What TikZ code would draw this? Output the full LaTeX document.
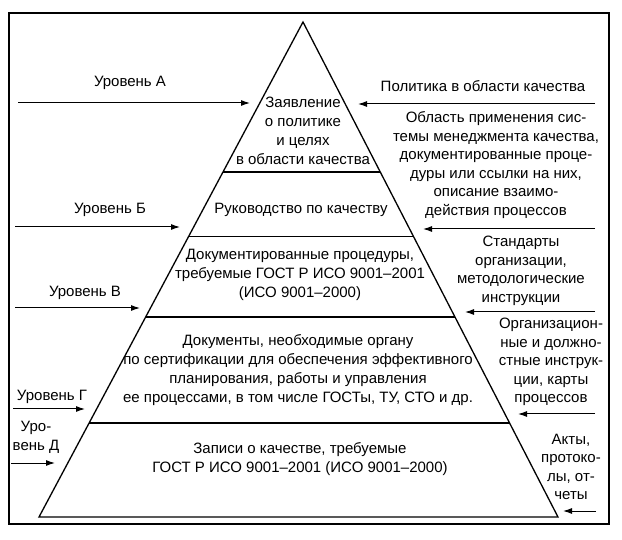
\documentclass[tikz,border=0pt]{standalone}
\usepackage{fontspec}
\setmainfont{Liberation Sans}
\usetikzlibrary{arrows.meta, calc}

\begin{document}
\begin{tikzpicture}[
		x=1pt, y=-1pt,
		>={Latex[length=9pt, width=6pt]},
		every node/.style={font=\fontsize{15}{19}\selectfont, inner sep=0pt},
		band/.style={align=center},
		rank/.style={align=center},
		docnote/.style={align=center, font=\fontsize{15}{18.5}\selectfont},
		feed/.style={->, line width=1pt},
		side/.style={line width=1.3pt}
		]
		\useasboundingbox (0,0) rectangle (622,540);
		
		% --- 1. Frame and the pyramid ---
		\draw[line width=1.6pt] (9,13) rectangle (609,524);
		\coordinate (apex) at (303,22);
		\coordinate (bl) at (39,517);
		\coordinate (br) at (558,517);
		\draw[side, line join=miter] (apex) -- (br) -- (bl) -- cycle;
		
		% layer boundaries
		\foreach \t in {0.303, 0.434, 0.596, 0.810} {
			\draw[side] ($(apex)!\t!(bl)$) -- ($(apex)!\t!(br)$);
		}
		
		% --- 2. Texts inside the pyramid ---
		\node[band] (stmt) at (303,131) {Заявление\\о политике\\и целях\\в области качества};
		\node[band] (guide) at (301,210) {Руководство по качеству};
		\node[band] (proc) at (300,275) {Документированные процедуры,\\требуемые ГОСТ Р ИСО 9001--2001\\(ИСО 9001--2000)};
		\node[band] (docs) at (298,370) {Документы, необходимые органу\\по сертификации для обеспечения эффективного\\планирования, работы и управления\\ее процессами, в том числе ГОСТы, ТУ, СТО и др.};
		\node[band] (recs) at (300,459) {Записи о качестве, требуемые\\ГОСТ Р ИСО 9001--2001 (ИСО 9001--2000)};
		
		% --- 3. Levels on the left ---
		\node[rank] (lvlA) at (130,83) {Уровень А};
		\node[rank] (lvlB) at (110,210) {Уровень Б};
		\node[rank] (lvlV) at (85,293) {Уровень В};
		\node[rank] (lvlG) at (52,397) {Уровень Г};
		\node[rank] (lvlD) at (36,437) {Уро-\\вень Д};
		
		\coordinate (inA) at (18,103);  \coordinate (atA) at (250,103);
		\coordinate (inB) at (15,227);  \coordinate (atB) at (180,227);
		\coordinate (inV) at (15,308);  \coordinate (atV) at (140,308);
		\coordinate (inG) at (13,409);  \coordinate (atG) at (85,409);
		\coordinate (inD) at (11,463);  \coordinate (atD) at (55,463);
		\foreach \l in {A, B, V, G, D}
			\draw[feed] (in\l) -- (at\l);
		
		% --- 4. Documents on the right ---
		\node[docnote] (policy) at (483,86) {Политика в области качества};
		\node[docnote] (scope) at (496,165) {Область применения сис-\\темы менеджмента качества,\\документированные проце-\\дуры или ссылки на них,\\описание взаимо-\\действия процессов};
		\node[docnote] (std) at (521,271) {Стандарты\\организации,\\методологические\\инструкции};
		\node[docnote] (instr) at (551,362) {Организацион-\\ные и должно-\\стные инструк-\\ции, карты\\процессов};
		\node[docnote] (acts) at (571,467) {Акты,\\протоко-\\лы, от-\\четы};
		
		\coordinate (srcA) at (595,104);  \coordinate (dstA) at (358,104);
		\coordinate (srcB) at (595,229);  \coordinate (dstB) at (423,229);
		\coordinate (srcV) at (595,312);  \coordinate (dstV) at (465,312);
		\coordinate (srcG) at (595,414);  \coordinate (dstG) at (518,414);
		\coordinate (srcD) at (596,511);  \coordinate (dstD) at (563,511);
		\foreach \l in {A, B, V, G, D}
			\draw[feed] (src\l) -- (dst\l);
		
	\end{tikzpicture}
\end{document}
